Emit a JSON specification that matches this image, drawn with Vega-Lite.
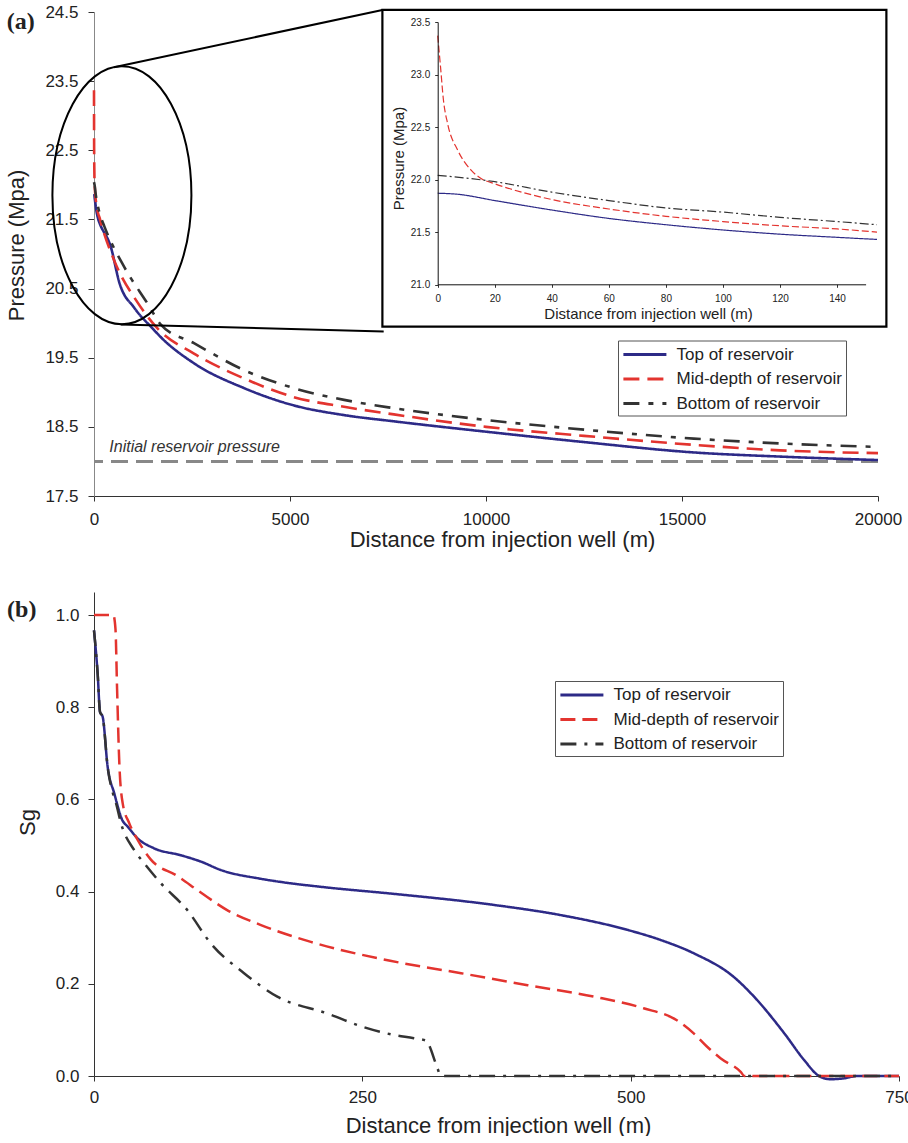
{
  "$schema": "https://vega.github.io/schema/vega-lite/v6.json",
  "padding": {"left": 5, "top": 3, "right": 0, "bottom": 0},
  "background": "white",
  "spacing": 42,
  "config": {
    "view": {"stroke": null},
    "font": "Liberation Sans",
    "axis": {"grid": false, "labelFlush": false, "labelOverlap": false, "labelFont": "Liberation Sans", "titleFont": "Liberation Sans", "labelFontSize": 17, "titleFontSize": 22, "titleFontWeight": "normal", "labelColor": "#222", "titleColor": "#222", "domainColor": "#333", "tickColor": "#333", "tickSize": 5},
    "legend": {"orient": "none", "title": null, "strokeColor": "#555", "padding": 3.5, "labelFont": "Liberation Sans", "labelFontSize": 17, "labelColor": "#222", "rowPadding": 5.5, "labelLimit": 400, "cornerRadius": 0}
  },
  "datasets": {
    "pa": [
      {"d": 0, "p": 21.87, "s": "Top of reservoir"},
      {"d": 7, "p": 21.86, "s": "Top of reservoir"},
      {"d": 20, "p": 21.80, "s": "Top of reservoir"},
      {"d": 40, "p": 21.71, "s": "Top of reservoir"},
      {"d": 60, "p": 21.63, "s": "Top of reservoir"},
      {"d": 80, "p": 21.57, "s": "Top of reservoir"},
      {"d": 100, "p": 21.52, "s": "Top of reservoir"},
      {"d": 120, "p": 21.48, "s": "Top of reservoir"},
      {"d": 140, "p": 21.45, "s": "Top of reservoir"},
      {"d": 154, "p": 21.43, "s": "Top of reservoir"},
      {"d": 430, "p": 21.10, "s": "Top of reservoir"},
      {"d": 650, "p": 20.58, "s": "Top of reservoir"},
      {"d": 1030, "p": 20.22, "s": "Top of reservoir"},
      {"d": 1500, "p": 19.92, "s": "Top of reservoir"},
      {"d": 1700, "p": 19.80, "s": "Top of reservoir"},
      {"d": 2550, "p": 19.42, "s": "Top of reservoir"},
      {"d": 3830, "p": 19.06, "s": "Top of reservoir"},
      {"d": 5100, "p": 18.81, "s": "Top of reservoir"},
      {"d": 6380, "p": 18.67, "s": "Top of reservoir"},
      {"d": 7650, "p": 18.58, "s": "Top of reservoir"},
      {"d": 10000, "p": 18.43, "s": "Top of reservoir"},
      {"d": 12500, "p": 18.28, "s": "Top of reservoir"},
      {"d": 15300, "p": 18.13, "s": "Top of reservoir"},
      {"d": 17500, "p": 18.07, "s": "Top of reservoir"},
      {"d": 20000, "p": 18.02, "s": "Top of reservoir"},
      {"d": 0, "p": 23.37, "s": "Mid-depth of reservoir"},
      {"d": 1, "p": 23.07, "s": "Mid-depth of reservoir"},
      {"d": 2, "p": 22.76, "s": "Mid-depth of reservoir"},
      {"d": 3.5, "p": 22.53, "s": "Mid-depth of reservoir"},
      {"d": 7, "p": 22.28, "s": "Mid-depth of reservoir"},
      {"d": 11.7, "p": 22.09, "s": "Mid-depth of reservoir"},
      {"d": 15.2, "p": 22.01, "s": "Mid-depth of reservoir"},
      {"d": 20, "p": 21.96, "s": "Mid-depth of reservoir"},
      {"d": 40, "p": 21.81, "s": "Mid-depth of reservoir"},
      {"d": 60, "p": 21.72, "s": "Mid-depth of reservoir"},
      {"d": 80, "p": 21.65, "s": "Mid-depth of reservoir"},
      {"d": 100, "p": 21.60, "s": "Mid-depth of reservoir"},
      {"d": 120, "p": 21.56, "s": "Mid-depth of reservoir"},
      {"d": 140, "p": 21.53, "s": "Mid-depth of reservoir"},
      {"d": 154, "p": 21.50, "s": "Mid-depth of reservoir"},
      {"d": 520, "p": 20.90, "s": "Mid-depth of reservoir"},
      {"d": 1110, "p": 20.30, "s": "Mid-depth of reservoir"},
      {"d": 1625, "p": 19.92, "s": "Mid-depth of reservoir"},
      {"d": 2550, "p": 19.56, "s": "Mid-depth of reservoir"},
      {"d": 3830, "p": 19.20, "s": "Mid-depth of reservoir"},
      {"d": 5100, "p": 18.93, "s": "Mid-depth of reservoir"},
      {"d": 6380, "p": 18.79, "s": "Mid-depth of reservoir"},
      {"d": 7650, "p": 18.68, "s": "Mid-depth of reservoir"},
      {"d": 10000, "p": 18.50, "s": "Mid-depth of reservoir"},
      {"d": 12500, "p": 18.37, "s": "Mid-depth of reservoir"},
      {"d": 15300, "p": 18.24, "s": "Mid-depth of reservoir"},
      {"d": 17500, "p": 18.16, "s": "Mid-depth of reservoir"},
      {"d": 20000, "p": 18.12, "s": "Mid-depth of reservoir"},
      {"d": 0, "p": 22.04, "s": "Bottom of reservoir"},
      {"d": 20, "p": 21.98, "s": "Bottom of reservoir"},
      {"d": 40, "p": 21.88, "s": "Bottom of reservoir"},
      {"d": 60, "p": 21.80, "s": "Bottom of reservoir"},
      {"d": 80, "p": 21.73, "s": "Bottom of reservoir"},
      {"d": 100, "p": 21.69, "s": "Bottom of reservoir"},
      {"d": 120, "p": 21.64, "s": "Bottom of reservoir"},
      {"d": 140, "p": 21.60, "s": "Bottom of reservoir"},
      {"d": 154, "p": 21.57, "s": "Bottom of reservoir"},
      {"d": 264, "p": 21.40, "s": "Bottom of reservoir"},
      {"d": 774, "p": 20.81, "s": "Bottom of reservoir"},
      {"d": 1370, "p": 20.28, "s": "Bottom of reservoir"},
      {"d": 1705, "p": 19.98, "s": "Bottom of reservoir"},
      {"d": 2550, "p": 19.71, "s": "Bottom of reservoir"},
      {"d": 3830, "p": 19.32, "s": "Bottom of reservoir"},
      {"d": 5100, "p": 19.06, "s": "Bottom of reservoir"},
      {"d": 6380, "p": 18.89, "s": "Bottom of reservoir"},
      {"d": 7650, "p": 18.77, "s": "Bottom of reservoir"},
      {"d": 10000, "p": 18.60, "s": "Bottom of reservoir"},
      {"d": 12500, "p": 18.46, "s": "Bottom of reservoir"},
      {"d": 15300, "p": 18.33, "s": "Bottom of reservoir"},
      {"d": 17500, "p": 18.26, "s": "Bottom of reservoir"},
      {"d": 20000, "p": 18.21, "s": "Bottom of reservoir"}
    ],
    "pb": [
      {"d": 0, "g": 0.967, "s": "Top of reservoir"},
      {"d": 3.4, "g": 0.873, "s": "Top of reservoir"},
      {"d": 5.6, "g": 0.79, "s": "Top of reservoir"},
      {"d": 8.1, "g": 0.779, "s": "Top of reservoir"},
      {"d": 12.7, "g": 0.671, "s": "Top of reservoir"},
      {"d": 18.9, "g": 0.613, "s": "Top of reservoir"},
      {"d": 26.4, "g": 0.555, "s": "Top of reservoir"},
      {"d": 31.4, "g": 0.541, "s": "Top of reservoir"},
      {"d": 40.4, "g": 0.516, "s": "Top of reservoir"},
      {"d": 55.9, "g": 0.494, "s": "Top of reservoir"},
      {"d": 80.7, "g": 0.479, "s": "Top of reservoir"},
      {"d": 99.7, "g": 0.465, "s": "Top of reservoir"},
      {"d": 118, "g": 0.447, "s": "Top of reservoir"},
      {"d": 155, "g": 0.428, "s": "Top of reservoir"},
      {"d": 177, "g": 0.42, "s": "Top of reservoir"},
      {"d": 217, "g": 0.409, "s": "Top of reservoir"},
      {"d": 280, "g": 0.395, "s": "Top of reservoir"},
      {"d": 373, "g": 0.371, "s": "Top of reservoir"},
      {"d": 435, "g": 0.349, "s": "Top of reservoir"},
      {"d": 497, "g": 0.317, "s": "Top of reservoir"},
      {"d": 528, "g": 0.295, "s": "Top of reservoir"},
      {"d": 559, "g": 0.266, "s": "Top of reservoir"},
      {"d": 596, "g": 0.215, "s": "Top of reservoir"},
      {"d": 615, "g": 0.172, "s": "Top of reservoir"},
      {"d": 643, "g": 0.093, "s": "Top of reservoir"},
      {"d": 661.5, "g": 0.035, "s": "Top of reservoir"},
      {"d": 675.5, "g": 0.0, "s": "Top of reservoir"},
      {"d": 686, "g": -0.007, "s": "Top of reservoir"},
      {"d": 699, "g": -0.005, "s": "Top of reservoir"},
      {"d": 711, "g": 0.0, "s": "Top of reservoir"},
      {"d": 750, "g": 0.0, "s": "Top of reservoir"},
      {"d": 0, "g": 1.0, "s": "Mid-depth of reservoir"},
      {"d": 18, "g": 1.0, "s": "Mid-depth of reservoir"},
      {"d": 20, "g": 0.97, "s": "Mid-depth of reservoir"},
      {"d": 21.5, "g": 0.84, "s": "Mid-depth of reservoir"},
      {"d": 23.6, "g": 0.678, "s": "Mid-depth of reservoir"},
      {"d": 26.7, "g": 0.592, "s": "Mid-depth of reservoir"},
      {"d": 32.9, "g": 0.548, "s": "Mid-depth of reservoir"},
      {"d": 40.7, "g": 0.512, "s": "Mid-depth of reservoir"},
      {"d": 52.8, "g": 0.47, "s": "Mid-depth of reservoir"},
      {"d": 77.6, "g": 0.434, "s": "Mid-depth of reservoir"},
      {"d": 99.5, "g": 0.398, "s": "Mid-depth of reservoir"},
      {"d": 124, "g": 0.36, "s": "Mid-depth of reservoir"},
      {"d": 155, "g": 0.328, "s": "Mid-depth of reservoir"},
      {"d": 202, "g": 0.291, "s": "Mid-depth of reservoir"},
      {"d": 276, "g": 0.25, "s": "Mid-depth of reservoir"},
      {"d": 342, "g": 0.223, "s": "Mid-depth of reservoir"},
      {"d": 404, "g": 0.197, "s": "Mid-depth of reservoir"},
      {"d": 466, "g": 0.172, "s": "Mid-depth of reservoir"},
      {"d": 512, "g": 0.147, "s": "Mid-depth of reservoir"},
      {"d": 543, "g": 0.121, "s": "Mid-depth of reservoir"},
      {"d": 559, "g": 0.092, "s": "Mid-depth of reservoir"},
      {"d": 571, "g": 0.064, "s": "Mid-depth of reservoir"},
      {"d": 584, "g": 0.038, "s": "Mid-depth of reservoir"},
      {"d": 602.5, "g": 0.009, "s": "Mid-depth of reservoir"},
      {"d": 606, "g": 0.0, "s": "Mid-depth of reservoir"},
      {"d": 750, "g": 0.0, "s": "Mid-depth of reservoir"},
      {"d": 0, "g": 0.967, "s": "Bottom of reservoir"},
      {"d": 3.4, "g": 0.873, "s": "Bottom of reservoir"},
      {"d": 5.6, "g": 0.79, "s": "Bottom of reservoir"},
      {"d": 8.1, "g": 0.779, "s": "Bottom of reservoir"},
      {"d": 12.7, "g": 0.671, "s": "Bottom of reservoir"},
      {"d": 18, "g": 0.61, "s": "Bottom of reservoir"},
      {"d": 20.5, "g": 0.592, "s": "Bottom of reservoir"},
      {"d": 25.2, "g": 0.548, "s": "Bottom of reservoir"},
      {"d": 37.5, "g": 0.49, "s": "Bottom of reservoir"},
      {"d": 46.9, "g": 0.461, "s": "Bottom of reservoir"},
      {"d": 62.4, "g": 0.418, "s": "Bottom of reservoir"},
      {"d": 86.9, "g": 0.36, "s": "Bottom of reservoir"},
      {"d": 108.7, "g": 0.288, "s": "Bottom of reservoir"},
      {"d": 139.8, "g": 0.223, "s": "Bottom of reservoir"},
      {"d": 170.8, "g": 0.172, "s": "Bottom of reservoir"},
      {"d": 217, "g": 0.136, "s": "Bottom of reservoir"},
      {"d": 250, "g": 0.107, "s": "Bottom of reservoir"},
      {"d": 279.5, "g": 0.089, "s": "Bottom of reservoir"},
      {"d": 298, "g": 0.082, "s": "Bottom of reservoir"},
      {"d": 309, "g": 0.077, "s": "Bottom of reservoir"},
      {"d": 320, "g": 0.017, "s": "Bottom of reservoir"},
      {"d": 323, "g": 0.0, "s": "Bottom of reservoir"},
      {"d": 750, "g": 0.0, "s": "Bottom of reservoir"}
    ]
  },
  "resolve": {"scale": {"color": "independent", "strokeDash": "independent"}},
  "vconcat": [
    {
      "width": 784,
      "height": 484,
      "layer": [
        {
          "layer": [
            {
              "data": {"values": [{}]},
              "mark": {"type": "rule", "color": "#888888", "strokeWidth": 3, "strokeDash": [17, 8]},
              "encoding": {
                "y": {"datum": 18, "type": "quantitative", "scale": {"domain": [17.5, 24.5], "nice": false, "zero": false}}
              }
            },
            {
              "data": {"values": [{}]},
              "mark": {"type": "text", "text": "Initial reservoir pressure", "font": "Liberation Sans", "fontSize": 16, "fontStyle": "italic", "align": "left", "baseline": "middle", "color": "#333"},
              "encoding": {
                "x": {"datum": 390, "type": "quantitative", "scale": {"domain": [0, 20000], "nice": false, "zero": false}},
                "y": {"datum": 18.21, "type": "quantitative", "scale": {"domain": [17.5, 24.5], "nice": false, "zero": false}}
              }
            },
            {
              "data": {"name": "pa"},
              "mark": {"type": "line", "strokeWidth": 2.6, "interpolate": "monotone"},
              "encoding": {
                "x": {"field": "d", "type": "quantitative", "scale": {"domain": [0, 20000], "nice": false, "zero": false}, "axis": {"values": [0, 5000, 10000, 15000, 20000], "format": "d", "title": "Distance from injection well (m)", "labelPadding": 10, "titlePadding": 2, "titleX": 408}},
                "y": {"field": "p", "type": "quantitative", "scale": {"domain": [17.5, 24.5], "nice": false, "zero": false}, "axis": {"values": [17.5, 18.5, 19.5, 20.5, 21.5, 22.5, 23.5, 24.5], "format": ".1f", "title": "Pressure (Mpa)", "tickSize": 6, "labelPadding": 10, "titlePadding": 16, "titleY": 233, "domainColor": "#888"}},
                "color": {"field": "s", "type": "nominal", "scale": {"domain": ["Top of reservoir", "Mid-depth of reservoir", "Bottom of reservoir"], "range": ["#2d2a87", "#e3342f", "#333333"]}, "legend": {"legendX": 524, "legendY": 328.5, "symbolType": "M -1 0 L 4 0", "symbolSize": 296, "symbolStrokeWidth": 3, "labelOffset": 34}},
                "strokeDash": {"field": "s", "type": "nominal", "scale": {"domain": ["Top of reservoir", "Mid-depth of reservoir", "Bottom of reservoir"], "range": [[1, 0], [16, 8], [16, 9, 5, 9]]}, "legend": {"legendX": 524, "legendY": 328.5, "symbolType": "M -1 0 L 4 0", "symbolSize": 296, "symbolStrokeWidth": 3, "labelOffset": 34}}
              }
            },
            {
              "data": {"values": [{}]},
              "mark": {"type": "rect", "fill": "white", "stroke": "black", "strokeWidth": 2.2},
              "encoding": {
                "x": {"datum": 7357, "type": "quantitative", "scale": {"domain": [0, 20000], "nice": false, "zero": false}},
                "x2": {"datum": 20214},
                "y": {"datum": 24.53, "type": "quantitative", "scale": {"domain": [17.5, 24.5], "nice": false, "zero": false}},
                "y2": {"datum": 19.95}
              }
            },
            {
              "data": {"values": [{}]},
              "mark": {"type": "rule", "color": "black", "strokeWidth": 2},
              "encoding": {
                "x": {"datum": 510, "type": "quantitative", "scale": {"domain": [0, 20000], "nice": false, "zero": false}},
                "x2": {"datum": 7357},
                "y": {"datum": 23.70, "type": "quantitative", "scale": {"domain": [17.5, 24.5], "nice": false, "zero": false}},
                "y2": {"datum": 24.53}
              }
            },
            {
              "data": {"values": [{}]},
              "mark": {"type": "rule", "color": "black", "strokeWidth": 2},
              "encoding": {
                "x": {"datum": 681, "type": "quantitative", "scale": {"domain": [0, 20000], "nice": false, "zero": false}},
                "x2": {"datum": 7390},
                "y": {"datum": 19.98, "type": "quantitative", "scale": {"domain": [17.5, 24.5], "nice": false, "zero": false}},
                "y2": {"datum": 19.88}
              }
            },
            {
              "data": {"values": [{}]},
              "mark": {"type": "point", "shape": "M -0.5388 0 A 0.5388 1 0 1 0 0.5388 0 A 0.5388 1 0 1 0 -0.5388 0 Z", "size": 66564, "filled": false, "stroke": "black", "strokeWidth": 2, "opacity": 1},
              "encoding": {
                "x": {"datum": 712, "type": "quantitative", "scale": {"domain": [0, 20000], "nice": false, "zero": false}},
                "y": {"datum": 21.85, "type": "quantitative", "scale": {"domain": [17.5, 24.5], "nice": false, "zero": false}}
              }
            },
            {
              "data": {"values": [{}]},
              "mark": {"type": "text", "text": "(a)", "font": "Liberation Serif", "fontWeight": "bold", "fontSize": 24, "align": "left", "baseline": "middle", "color": "#222"},
              "encoding": {
                "x": {"datum": -2227, "type": "quantitative", "scale": {"domain": [0, 20000], "nice": false, "zero": false}},
                "y": {"datum": 24.36, "type": "quantitative", "scale": {"domain": [17.5, 24.5], "nice": false, "zero": false}}
              }
            }
          ]
        },
        {
          "data": {"name": "pa"},
          "transform": [{"filter": "datum.d <= 155"}],
          "mark": {"type": "line", "strokeWidth": 1.2, "interpolate": "monotone"},
          "encoding": {
            "x": {"field": "d", "type": "quantitative", "scale": {"domain": [0, 150], "range": [343.7, 771.6], "nice": false, "zero": false}, "axis": {"orient": "bottom", "offset": -211.7, "zindex": 2, "values": [0, 20, 40, 60, 80, 100, 120, 140], "format": "d", "labelFontSize": 10, "titleFontSize": 15, "tickSize": 3, "labelPadding": 6, "titlePadding": 3, "title": "Distance from injection well (m)", "titleX": 554, "domainColor": "#111"}},
            "y": {"field": "p", "type": "quantitative", "scale": {"domain": [21, 23.5], "range": [272.6, 10], "nice": false, "zero": false}, "axis": {"orient": "left", "offset": -343.7, "zindex": 2, "values": [21, 21.5, 22, 22.5, 23, 23.5], "format": ".1f", "labelFontSize": 10, "titleFontSize": 15, "tickSize": 3, "labelPadding": 5, "titlePadding": 4, "title": "Pressure (Mpa)", "titleY": 146, "domainColor": "#111"}},
            "color": {"field": "s", "type": "nominal", "scale": {"domain": ["Top of reservoir", "Mid-depth of reservoir", "Bottom of reservoir"], "range": ["#2d2a87", "#e3342f", "#333333"]}, "legend": null},
            "strokeDash": {"field": "s", "type": "nominal", "scale": {"domain": ["Top of reservoir", "Mid-depth of reservoir", "Bottom of reservoir"], "range": [[1, 0], [7, 3], [9, 3, 2, 3]]}, "legend": null}
          }
        }
      ],
      "resolve": {"scale": {"x": "independent", "y": "independent", "color": "independent", "strokeDash": "independent"}, "axis": {"x": "independent", "y": "independent"}}
    },
    {
      "width": 805,
      "height": 484,
      "layer": [
        {
          "data": {"name": "pb"},
          "mark": {"type": "line", "strokeWidth": 2.5, "interpolate": "monotone"},
          "encoding": {
            "x": {"field": "d", "type": "quantitative", "scale": {"domain": [0, 750], "nice": false, "zero": false}, "axis": {"values": [0, 250, 500, 750], "format": "d", "title": "Distance from injection well (m)", "labelPadding": 8, "titlePadding": 10, "titleX": 404}},
            "y": {"field": "g", "type": "quantitative", "scale": {"domain": [0, 1.05], "nice": false, "zero": false}, "axis": {"values": [0, 0.2, 0.4, 0.6, 0.8, 1.0], "format": ".1f", "title": "Sg", "tickSize": 6, "labelPadding": 9, "titlePadding": 16, "titleY": 230}},
            "color": {"field": "s", "type": "nominal", "scale": {"domain": ["Top of reservoir", "Mid-depth of reservoir", "Bottom of reservoir"], "range": ["#2d2a87", "#e3342f", "#333333"]}, "legend": {"legendX": 461, "legendY": 89, "symbolType": "M -1 0 L 4 0", "symbolSize": 296, "symbolStrokeWidth": 3, "labelOffset": 34}},
            "strokeDash": {"field": "s", "type": "nominal", "scale": {"domain": ["Top of reservoir", "Mid-depth of reservoir", "Bottom of reservoir"], "range": [[1, 0], [15, 7], [16, 8, 3, 8]]}, "legend": {"legendX": 461, "legendY": 89, "symbolType": "M -1 0 L 4 0", "symbolSize": 296, "symbolStrokeWidth": 3, "labelOffset": 34}}
          }
        },
        {
          "data": {"values": [{}]},
          "mark": {"type": "text", "text": "(b)", "font": "Liberation Serif", "fontWeight": "bold", "fontSize": 24, "align": "left", "baseline": "middle", "color": "#222"},
          "encoding": {
            "x": {"datum": -81, "type": "quantitative", "scale": {"domain": [0, 750], "nice": false, "zero": false}},
            "y": {"datum": 1.011, "type": "quantitative", "scale": {"domain": [0, 1.05], "nice": false, "zero": false}}
          }
        }
      ]
    }
  ]
}
